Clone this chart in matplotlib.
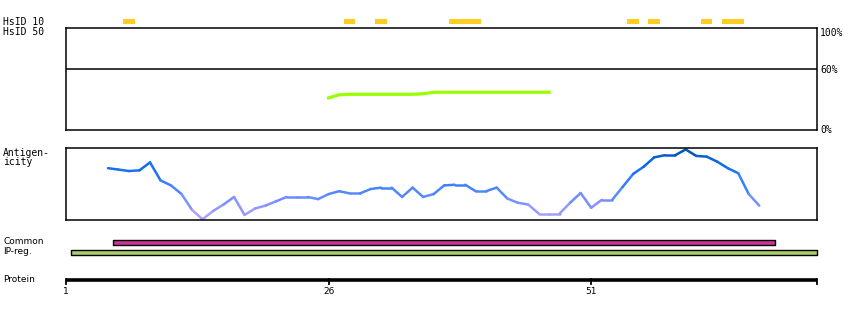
import numpy as np
import matplotlib
matplotlib.use("Agg")
import matplotlib.pyplot as plt
from matplotlib.collections import LineCollection
from matplotlib.colors import LinearSegmentedColormap

# HsID 10 hits (start residue, width in residues)
hsid10_start = [6.45, 27.45, 30.45, 37.45, 54.45, 56.45, 61.45, 63.45]
hsid10_width = [1.1, 1.1, 1.1, 3.05, 1.1, 1.1, 1.1, 2.1]

# HsID 50 identity curve (%)
hsid50_pos = list(range(26, 48))
hsid50_val = [31.5, 34.5, 35, 35, 35, 35, 35, 35, 35, 35.5,
              37, 37, 37, 37, 37, 37, 37, 37, 37, 37, 37, 37]

# antigenicity per residue (relative 0..1)
anti_pos = list(range(5, 68))
anti_val = [0.72, 0.70, 0.68, 0.69, 0.80, 0.55, 0.48, 0.36, 0.14, 0.01,
            0.125, 0.215, 0.32, 0.07, 0.16, 0.20, 0.26, 0.32, 0.32, 0.32,
            0.29, 0.36, 0.40, 0.37, 0.37, 0.43, 0.45, 0.45, 0.32, 0.45,
            0.32, 0.36, 0.48, 0.49, 0.49, 0.40, 0.40, 0.45, 0.30, 0.24,
            0.215, 0.09, 0.09, 0.09, 0.24, 0.375, 0.17, 0.28, 0.28, 0.46,
            0.64, 0.74, 0.87, 0.90, 0.90, 0.98, 0.89, 0.88, 0.81, 0.72,
            0.65, 0.36, 0.20]

# regions (start, end residue)
common_reg = (5.5, 68.5)
ipreg_reg = (1.5, 72.5)

prot_ticks = [1, 26, 51]
prot_len = 72.5

W, H = 850, 320
fig = plt.figure(figsize=(W / 100, H / 100), dpi=100)
mono = "DejaVu Sans Mono"

def px_axes(left, top, right, bottom):
    return fig.add_axes([left / W, 1 - bottom / H, (right - left) / W, (bottom - top) / H])

xl, xr = 66, 817
xlim = (1, prot_len)

# track axes: y in pixel units
tr = fig.add_axes([xl / W, 0, (xr - xl) / W, 1])
tr.set_xlim(xlim)
tr.set_ylim(H, 0)
tr.axis("off")

tr.broken_barh(list(zip(hsid10_start, hsid10_width)), (19, 5), facecolors="#ffcc22")

tr.broken_barh([(common_reg[0], common_reg[1] - common_reg[0])], (240, 4.5),
               facecolors="#cc3399", edgecolors="black", linewidth=1, clip_on=False)
tr.broken_barh([(ipreg_reg[0], ipreg_reg[1] - ipreg_reg[0])], (250, 4.5),
               facecolors="#a8cc66", edgecolors="black", linewidth=1, clip_on=False)

tr.plot([1, prot_len], [279.5, 279.5], color="black", lw=2.6, solid_capstyle="butt", clip_on=False)
for t in prot_ticks + [prot_len]:
    tr.plot([t, t], [279, 284], color="black", lw=1.3, clip_on=False)
for t in prot_ticks:
    tr.text(t, 292, str(t), ha="center", va="center", fontsize=6.5, family="DejaVu Sans")

# left labels
fig.text(3 / W, 1 - 22 / H, "HsID 10", fontsize=7, family=mono, va="center")
fig.text(3 / W, 1 - 32 / H, "HsID 50", fontsize=7, family=mono, va="center")
fig.text(3 / W, 1 - 153 / H, "Antigen-", fontsize=7, family=mono, va="center")
fig.text(3 / W, 1 - 162 / H, "icity", fontsize=7, family=mono, va="center")
fig.text(3 / W, 1 - 242 / H, "Common", fontsize=6.5, family="DejaVu Sans", va="center")
fig.text(3 / W, 1 - 252 / H, "IP-reg.", fontsize=6.5, family="DejaVu Sans", va="center")
fig.text(3 / W, 1 - 280 / H, "Protein", fontsize=6.5, family="DejaVu Sans", va="center")

# HsID 50 panel
ax1 = px_axes(xl, 28, xr, 130)
ax1.set_xlim(xlim)
ax1.set_ylim(0, 100)
ax1.set_xticks([])
ax1.set_yticks([])
for s in ax1.spines.values():
    s.set_linewidth(1.1)
ax1.axhline(60, color="black", lw=1.1)
ax1.plot(hsid50_pos, hsid50_val, color="#99ff00", lw=2.3)
for lab, yp in [("100%", 33), ("60%", 70), ("0%", 130)]:
    fig.text(820 / W, 1 - yp / H, lab, fontsize=7, family=mono, va="center")

# antigenicity panel
ax2 = px_axes(xl, 148, xr, 220)
ax2.set_xlim(xlim)
ax2.set_ylim(0, 1)
ax2.set_xticks([])
ax2.set_yticks([])
for s in ax2.spines.values():
    s.set_linewidth(1.1)

cmap = LinearSegmentedColormap.from_list(
    "anti", ["#b8a8ff", "#8c94ff", "#4f86ff", "#2a78ff", "#0a66e6", "#0050a8"])
pts = np.column_stack([anti_pos, anti_val])
segs = np.stack([pts[:-1], pts[1:]], axis=1)
mid = (np.array(anti_val[:-1]) + np.array(anti_val[1:])) / 2
lc = LineCollection(segs, colors=cmap(mid), linewidths=1.8, capstyle="round")
ax2.add_collection(lc)

fig.savefig("out.png", dpi=100)
